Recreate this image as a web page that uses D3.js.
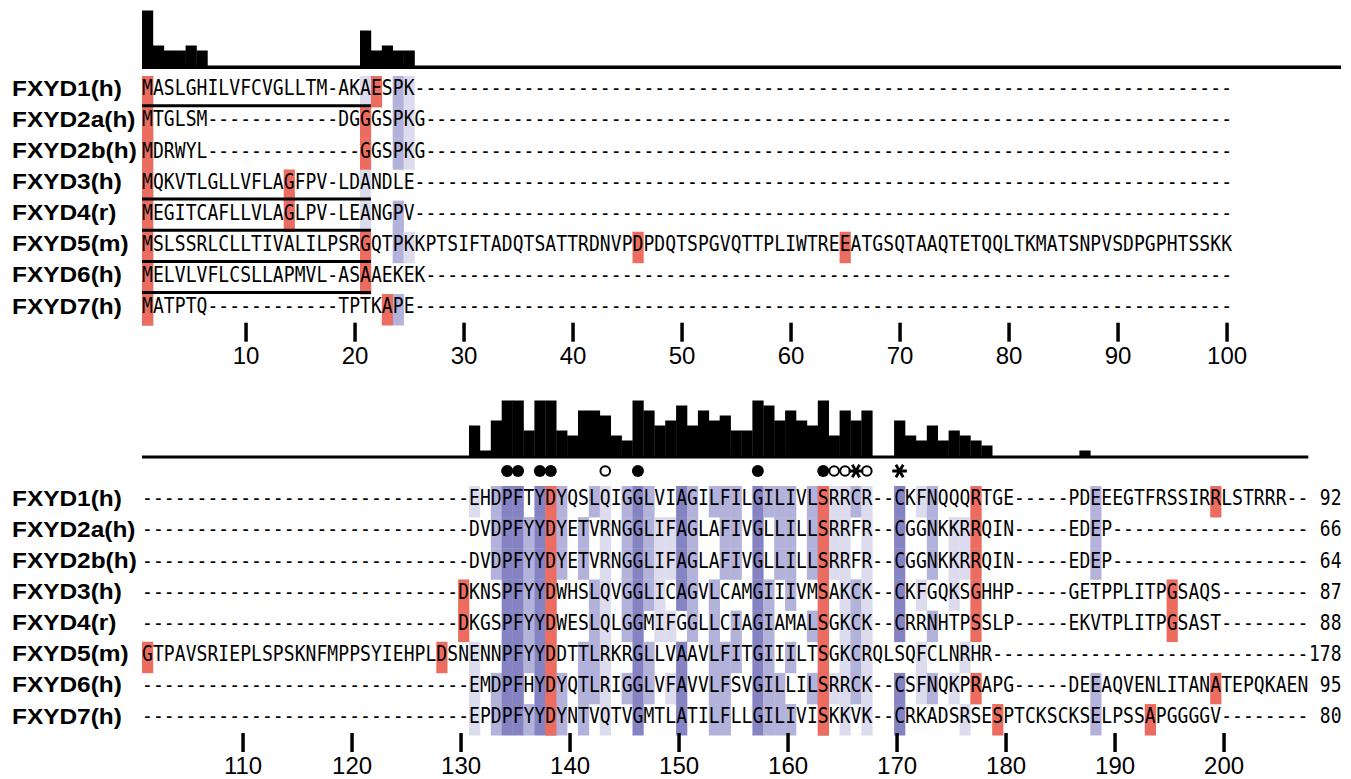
<!DOCTYPE html>
<html>
<head>
<meta charset="utf-8">
<script src="https://cdn.jsdelivr.net/npm/d3@7"></script>
<style>
  body { margin: 0; background: #fff; }
  .seq text { font-family: "DejaVu Sans Mono", monospace; font-size: 18px; fill: #000; }
  .names text { font-family: "Liberation Sans", Arial, sans-serif; font-size: 22px; font-weight: bold; fill: #000; }
  .axis text { font-family: "Liberation Sans", Arial, sans-serif; font-size: 24px; fill: #000; }
  .axis line { stroke: #000; stroke-width: 3.5; }
  .axis path { display: none; }
</style>
</head>
<body>
<div id="chart"></div>
<script>

// sequence names and alignment (gaps as "-")
var names = ["FXYD1(h)", "FXYD2a(h)", "FXYD2b(h)", "FXYD3(h)", "FXYD4(r)", "FXYD5(m)", "FXYD6(h)", "FXYD7(h)"];

// alignment columns 1-100
var seqTop = [
	"MASLGHILVFCVGLLTM-AKAESPK",
	"MTGLSM------------DGGGSPKG",
	"MDRWYL--------------GGSPKG",
	"MQKVTLGLLVFLAGFPV-LDANDLE",
	"MEGITCAFLLVLAGLPV-LEANGPV",
	"MSLSSRLCLLTIVALILPSRGQTPKKPTSIFTADQTSATTRDNVPDPDQTSPGVQTTPLIWTREEATGSQTAAQTETQQLTKMATSNPVSDPGPHTSSKK",
	"MELVLVFLCSLLAPMVL-ASAAEKEK",
	"MATPTQ------------TPTKAPE"
].map(function(s){ return s.padEnd(100, "-"); });

// alignment columns 101-207
var seqBottom = [
	"------------------------------EHDPFTYDYQSLQIGGLVIAGILFILGILIVLSRRCR--CKFNQQQRTGE-----PDEEEGTFRSSIRRLSTRRR--",
	"------------------------------DVDPFYYDYETVRNGGLIFAGLAFIVGLLILLSRRFR--CGGNKKRRQIN-----EDEP",
	"------------------------------DVDPFYYDYETVRNGGLIFAGLAFIVGLLILLSRRFR--CGGNKKRRQIN-----EDEP",
	"-----------------------------DKNSPFYYDWHSLQVGGLICAGVLCAMGIIIVMSAKCK--CKFGQKSGHHP-----GETPPLITPGSAQS",
	"-----------------------------DKGSPFYYDWESLQLGGMIFGGLLCIAGIAMALSGKCK--CRRNHTPSSLP-----EKVTPLITPGSAST",
	"GTPAVSRIEPLSPSKNFMPPSYIEHPLDSNENNPFYYDDTTLRKRGLLVAAVLFITGIIILTSGKCRQLSQFCLNRHR",
	"------------------------------EMDPFHYDYQTLRIGGLVFAVVLFSVGILLILSRRCK--CSFNQKPRAPG-----DEEAQVENLITANATEPQKAEN",
	"------------------------------EPDPFYYDYNTVQTVGMTLATILFLLGILIVISKKVK--CRKADSRSESPTCKSCKSELPSSAPGGGGV"
].map(function(s){ return s.padEnd(107, "-"); });

var seqLengths = [92, 66, 64, 87, 88, 178, 95, 80];

// conservation histogram (0-11), one value per column
var consTop = [11,4,3,3,4,3,0,0,0,0, 0,0,0,0,0,0,0,0,0,0, 7,3,4,3,3,0,0,0,0,0,
	0,0,0,0,0,0,0,0,0,0, 0,0,0,0,0,0,0,0,0,0, 0,0,0,0,0,0,0,0,0,0,
	0,0,0,0,0,0,0,0,0,0, 0,0,0,0,0,0,0,0,0,0, 0,0,0,0,0,0,0,0,0,0,
	0,0,0,0,0,0,0,0,0,0];
var consBottom = [0,0,0,0,0,0,0,0,0,0, 0,0,0,0,0,0,0,0,0,0, 0,0,0,0,0,0,0,0,0,0,
	6,1,7,11,11,5,11,11,5,4, 9,9,8,4,3,11,9,6,7,10, 6,9,7,8,5,5,11,10,7,9,
	7,6,11,4,9,7,9,0,0,7, 4,3,6,3,5,4,3,2,0,0, 0,0,0,0,0,0,1,0,0,0,
	0,0,0,0,0,0,0];

// highlighted residues [row, alignment position]
var redCells = [
	[0,1],[1,1],[2,1],[3,1],[4,1],[5,1],[6,1],[7,1],
	[0,22],[1,21],[2,21],[5,21],[6,21],[3,14],[4,14],[7,23],[5,46],[5,65],
	[5,101],[5,128],[3,130],[4,130],
	[0,138],[1,138],[2,138],[3,138],[4,138],[5,138],[6,138],[7,138],
	[0,163],[1,163],[2,163],[3,163],[4,163],[5,163],[6,163],[7,163],
	[0,177],[1,177],[2,177],[3,177],[4,177],[6,177],
	[7,179],[7,193],[3,195],[4,195],[0,199],[6,199]
];

// underlined (signal peptide) rows, columns 1-21
var signalRows = [0, 3, 4, 5, 6];
var signalEnd = 21;

// markers above the second block
var filledDots = [134, 135, 137, 138, 146, 157, 163];
var openDots = [143, 164, 165, 167];
var stars = [166, 170];

var ticksTop = [10, 20, 30, 40, 50, 60, 70, 80, 90, 100];
var ticksBottom = [110, 120, 130, 140, 150, 160, 170, 180, 190, 200];

var width = 1351, height = 779;
var cw = 10.9, rowH = 31.15;

var svg = d3.select("#chart").append("svg")
	.attr("width", width)
	.attr("height", height);

var blocks = [
	{seqs: seqTop, start: 1, lineCols: 110, rowTop: 76, baseTop: 65.5, lineW: 3.6, tickY: 322.7, ticks: ticksTop, shift: 0, cons: consTop},
	{seqs: seqBottom, start: 101, lineCols: 107, rowTop: 486, baseTop: 455.5, lineW: 3, tickY: 733, ticks: ticksBottom, shift: -3, cons: consBottom}
];

var colours = {3: "#8583c2", 2: "#b3b2da", 1: "#dddcee"};
var red = "#ec6d5f";

var hScale = d3.scaleLinear().domain([0, 11]).range([0, 55]);

// percent identity level per cell (>80, >60, >40 %)
function pidLevels(seqs){
	var n = seqs.length, len = seqs[0].length;
	var levels = seqs.map(function(){ return []; });
	for (var c = 0; c < len; c++) {
		var counts = {};
		seqs.forEach(function(s){ if (s[c] != "-") counts[s[c]] = (counts[s[c]] || 0) + 1; });
		var max = d3.max(Object.values(counts)) || 0;
		var pid = max / n * 100;
		var lvl = pid > 80 ? 3 : pid > 60 ? 2 : pid > 40 ? 1 : 0;
		seqs.forEach(function(s, r){
			levels[r][c] = (lvl > 0 && counts[s[c]] == max) ? lvl : 0;
		});
	}
	return levels;
}

blocks.forEach(function(b, bi){

	var ncol = b.seqs[0].length;
	var x = d3.scaleLinear().domain([0, 110]).range([142, 142 + 110 * cw]);
	var y = d3.scaleBand().domain(d3.range(names.length)).range([b.rowTop, b.rowTop + rowH * names.length]);

	var g = svg.append("g");

	// conservation histogram
	g.append("g").selectAll("rect")
	.data(b.cons.map(function(v, i){ return {i: i, v: v}; }).filter(function(d){ return d.v > 0; }))
	.enter().append("rect")
	.attr("x", function(d){ return x(d.i); })
	.attr("y", function(d){ return b.baseTop - hScale(d.v); })
	.attr("width", cw + 0.3)
	.attr("height", function(d){ return hScale(d.v) + 2; })
	.attr("fill", "#000");

	g.append("line")
	.attr("x1", x(0)).attr("x2", x(b.lineCols))
	.attr("y1", b.baseTop + b.lineW / 2).attr("y2", b.baseTop + b.lineW / 2)
	.attr("stroke", "#000").attr("stroke-width", b.lineW);

	// identity shading
	var levels = pidLevels(b.seqs);
	var cells = [];
	levels.forEach(function(row, r){
		row.forEach(function(l, c){ if (l > 0) cells.push({r: r, c: c, l: l}); });
	});
	g.append("g").selectAll("rect")
	.data(cells)
	.enter().append("rect")
	.attr("x", function(d){ return x(d.c); })
	.attr("y", function(d){ return y(d.r); })
	.attr("width", cw + 0.3)
	.attr("height", y.bandwidth() + 0.3)
	.attr("fill", function(d){ return colours[d.l]; });

	// highlighted residues
	g.append("g").selectAll("rect")
	.data(redCells.filter(function(d){ return d[1] >= b.start && d[1] < b.start + ncol; }))
	.enter().append("rect")
	.attr("x", function(d){ return x(d[1] - b.start); })
	.attr("y", function(d){ return y(d[0]); })
	.attr("width", cw + 0.3)
	.attr("height", y.bandwidth() + 0.3)
	.attr("fill", red);

	// signal peptide underlines (first block only)
	if (bi == 0) {
		g.append("g").selectAll("line")
		.data(signalRows)
		.enter().append("line")
		.attr("x1", x(0)).attr("x2", x(signalEnd))
		.attr("y1", function(r){ return y(r) + rowH - 1.5; })
		.attr("y2", function(r){ return y(r) + rowH - 1.5; })
		.attr("stroke", "#000").attr("stroke-width", 3);
	}

	// residues
	var seqG = g.append("g").attr("class", "seq");
	b.seqs.forEach(function(s, r){
		seqG.append("g").selectAll("text")
		.data(s.split(""))
		.enter().append("text")
		.attr("transform", function(d, c){
			return "translate(" + (x(c) + cw / 2) + "," + (y(r) + 19.3) + ") scale(1,1.14)";
		})
		.attr("text-anchor", "middle")
		.text(function(d){ return d; });
	});

	// names
	g.append("g").attr("class", "names").selectAll("text")
	.data(names)
	.enter().append("text")
	.attr("transform", function(d, r){ return "translate(12," + (y(r) + 19.5) + ") scale(1.11,1)"; })
	.text(function(d){ return d; });

	// axis of alignment positions
	var px = d3.scaleLinear().domain([b.start, b.start + 110]).range([x(0) + cw / 2 + b.shift, x(110) + cw / 2 + b.shift]);
	g.append("g")
	.attr("class", "axis")
	.attr("transform", "translate(0," + b.tickY + ")")
	.call(d3.axisBottom(px).tickValues(b.ticks).tickSize(19).tickPadding(5).tickFormat(d3.format("d")));
});

// sequence lengths at end of second block
var xb = d3.scaleLinear().domain([0, 110]).range([142, 142 + 110 * cw]);
var yb = d3.scaleBand().domain(d3.range(names.length)).range([486, 486 + rowH * names.length]);
svg.append("g").attr("class", "seq").selectAll("text")
	.data(seqLengths)
	.enter().append("text")
	.attr("transform", function(d, r){ return "translate(" + (xb(110) + 0.5) + "," + (yb(r) + 19.3) + ") scale(1,1.14)"; })
	.attr("text-anchor", "end")
	.text(function(d){ return d; });

// marker row
var mx = function(p){ return xb(p - 101) + cw / 2; };
var my = 471;
svg.append("g").selectAll("circle.f")
	.data(filledDots)
	.enter().append("circle")
	.attr("cx", mx).attr("cy", my).attr("r", 6)
	.attr("fill", "#000");
svg.append("g").selectAll("circle.o")
	.data(openDots)
	.enter().append("circle")
	.attr("cx", mx).attr("cy", my).attr("r", 4.8)
	.attr("fill", "#fff").attr("stroke", "#000").attr("stroke-width", 2);
svg.append("g").selectAll("path")
	.data(stars)
	.enter().append("path")
	.attr("transform", function(d){ return "translate(" + mx(d) + "," + my + ") rotate(90)"; })
	.attr("d", d3.symbol(d3.symbolAsterisk, 150))
	.attr("fill", "none").attr("stroke", "#000").attr("stroke-width", 2.8);

</script>
</body>
</html>
